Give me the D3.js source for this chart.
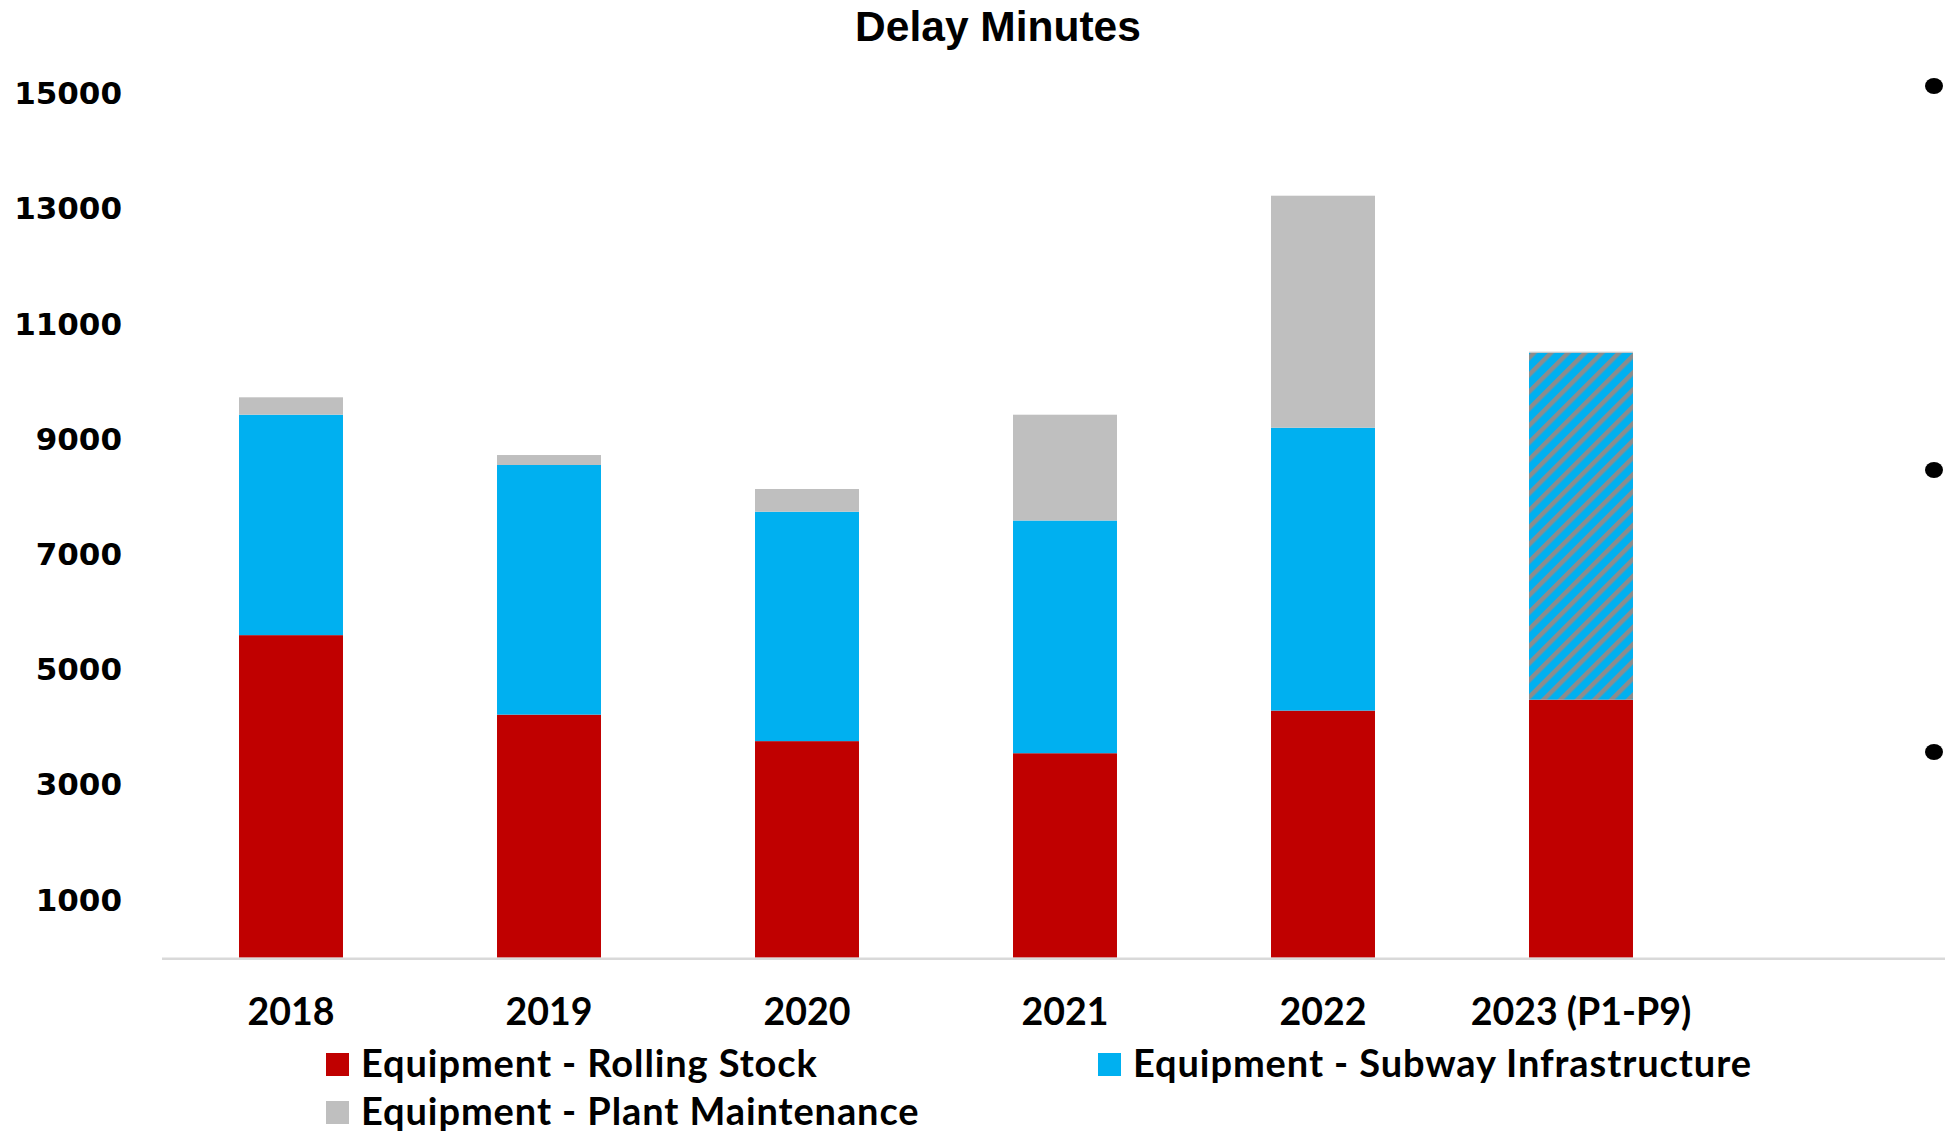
<!DOCTYPE html>
<html>
<head>
<meta charset="utf-8">
<script src="https://cdn.jsdelivr.net/npm/d3@7"></script>
<style>
  html, body { margin: 0; padding: 0; background: #fff; overflow: hidden; }
  svg { display: block; }
</style>
</head>
<body>
<svg id="chart" width="1945" height="1132"></svg>
<script>
// ---- Data ----
const categories = ["2018", "2019", "2020", "2021", "2022", "2023 (P1-P9)"];
const seriesNames = ["Equipment - Rolling Stock", "Equipment - Subway Infrastructure", "Equipment - Plant Maintenance"];
const rollingStock   = [5600, 4220, 3760, 3550, 4290, 4480];
const subwayInfra    = [3827, 4334, 3983, 4040, 4911, 6023];
const plantMaint     = [302, 173, 394, 1837, 4028, 18];
const yTicks = [1000, 3000, 5000, 7000, 9000, 11000, 13000, 15000];
const hatchedCategory = "2023 (P1-P9)";
const colors = ["#C00000", "#00B0F0", "#BFBFBF"];

const svg = d3.select("#chart");
const W = 1945, H = 1132;

// pattern for hatched (partial year) bar
const defs = svg.append("defs");
const pat = defs.append("pattern")
  .attr("id", "hatch")
  .attr("patternUnits", "userSpaceOnUse")
  .attr("width", 12).attr("height", 12)
  .attr("patternTransform", "rotate(45)");
pat.append("rect").attr("width", 12).attr("height", 12).attr("fill", "#00B0F0");
pat.append("rect").attr("x", 0).attr("y", 0).attr("width", 4.5).attr("height", 12).attr("fill", "#8C8C8C");

// scales
const x = d3.scaleBand()
  .domain(categories)
  .range([162, 162 + 258 * categories.length])
  .paddingInner(0.597)
  .paddingOuter(0.2985);

const y = d3.scaleLinear()
  .domain([0, 16000])
  .range([957.7, 957.7 - 16 * 57.6]);

// stacked data
const table = categories.map((c, i) => ({
  cat: c,
  s0: rollingStock[i],
  s1: subwayInfra[i],
  s2: plantMaint[i]
}));
const stack = d3.stack().keys(["s0", "s1", "s2"]);
const stacked = stack(table);

// title
svg.append("text")
  .attr("x", 998).attr("y", 41)
  .attr("text-anchor", "middle")
  .attr("font-family", "'Liberation Sans', Arial, sans-serif")
  .attr("font-weight", "bold")
  .attr("font-size", 42.5)
  .attr("fill", "#000")
  .text("Delay Minutes");

// y axis labels (no line)
const yAxis = d3.axisLeft(y).tickValues(yTicks).tickSize(0).tickPadding(0).tickFormat(d3.format("d"));
const yg = svg.append("g").attr("transform", "translate(122,0)").call(yAxis);
yg.select(".domain").remove();
yg.selectAll("text")
  .attr("font-family", "'DejaVu Sans', Verdana, sans-serif")
  .attr("font-weight", "bold")
  .attr("font-size", 31)
  .attr("fill", "#000");

// bars
const layers = svg.append("g").selectAll("g")
  .data(stacked).join("g");
layers.each(function(layer, li) {
  d3.select(this).selectAll("rect")
    .data(layer).join("rect")
    .attr("x", d => x(d.data.cat))
    .attr("width", x.bandwidth())
    .attr("y", d => y(d[1]))
    .attr("height", d => y(d[0]) - y(d[1]))
    .attr("fill", d => (li === 1 && d.data.cat === hatchedCategory) ? "url(#hatch)" : colors[li]);
});

// x axis baseline
svg.append("line")
  .attr("x1", x.range()[0]).attr("x2", W)
  .attr("y1", y(0) + 1).attr("y2", y(0) + 1)
  .attr("stroke", "#D9D9D9").attr("stroke-width", 2.5);

// x axis labels
const xAxis = d3.axisBottom(x).tickSize(0).tickPadding(0);
const xg = svg.append("g").attr("transform", "translate(0,1025)").call(xAxis);
xg.select(".domain").remove();
xg.selectAll("text")
  .attr("dy", 0)
  .attr("font-family", "Lato, 'Open Sans', sans-serif")
  .attr("font-weight", "bold")
  .attr("font-size", 37.5)
  .attr("fill", "#000");

// legend
const legendItems = [
  { name: seriesNames[0], color: colors[0], x: 326, y: 1077 },
  { name: seriesNames[1], color: colors[1], x: 1098, y: 1077 },
  { name: seriesNames[2], color: colors[2], x: 326, y: 1125 }
];
const lg = svg.append("g").selectAll("g").data(legendItems).join("g")
  .attr("transform", d => `translate(${d.x},${d.y})`);
lg.append("rect")
  .attr("x", 0).attr("y", -24).attr("width", 23).attr("height", 23)
  .attr("fill", d => d.color);
lg.append("text")
  .attr("x", 35).attr("y", 0)
  .attr("font-family", "Lato, 'Open Sans', sans-serif")
  .attr("font-weight", "bold")
  .attr("font-size", 38)
  .attr("letter-spacing", 0.9)
  .attr("fill", "#000")
  .text(d => d.name);

// bullets at right edge (cropped text box)
const bulletYs = [86, 470, 752];
svg.append("g").selectAll("ellipse").data(bulletYs).join("ellipse")
  .attr("cx", 1934).attr("cy", d => d)
  .attr("rx", 9).attr("ry", 8)
  .attr("fill", "#000");
</script>
</body>
</html>
